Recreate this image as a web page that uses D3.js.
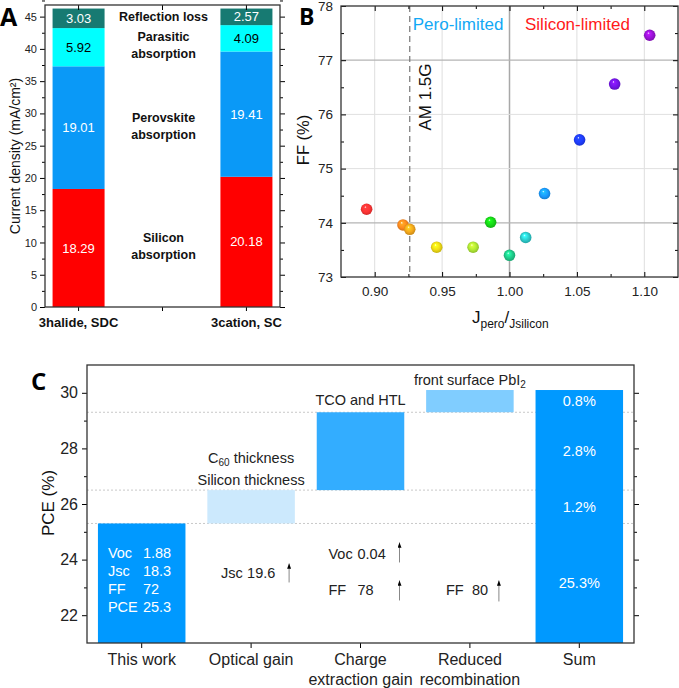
<!DOCTYPE html>
<html><head><meta charset="utf-8">
<script src="https://cdn.jsdelivr.net/npm/d3@7"></script>
<style>
body{margin:0;background:#fff;}
svg{display:block;font-family:"Liberation Sans",Arial,sans-serif;}
</style></head><body>
<svg id="chart" width="679" height="688"></svg>
<script>
// ---------- Panel A data ----------
const devicesA = ["3halide, SDC", "3cation, SC"];
const siliconAbs = [18.29, 20.18];
const perovskiteAbs = [19.01, 19.41];
const parasiticAbs = [5.92, 4.09];
const reflectionLoss = [3.03, 2.57];
const segmentNamesA = [["Silicon", "absorption"], ["Perovskite", "absorption"], ["Parasitic", "absorption"], ["Reflection loss"]];
const segmentColorsA = ["#ff0000", "#0a99f7", "#00ffff", "#177a72"];
const segmentTextA = ["#fff", "#fff", "#000", "#fff"];
const yTicksA = [0, 5, 10, 15, 20, 25, 30, 35, 40, 45];

// ---------- Panel B data ----------
const jRatio = [0.894, 0.921, 0.926, 0.946, 0.973, 0.986, 1.000, 1.012, 1.026, 1.052, 1.078, 1.104];
const ffValues = [74.25, 73.96, 73.88, 73.55, 73.55, 74.01, 73.40, 73.73, 74.54, 75.53, 76.56, 77.46];
const pointColors = ["#ff3434", "#ff8a1e", "#f5a81c", "#f0dc14", "#b0ea34", "#16d816", "#1fcb8a", "#2ccccc", "#1a9bff", "#1f3dff", "#7414ea", "#9a12d6"];
const xTicksB = [0.90, 0.95, 1.00, 1.05, 1.10];
const yTicksB = [73, 74, 75, 76, 77, 78];
const am15G = 0.926;

// ---------- Panel C data ----------
const stepsC = ["This work", "Optical gain", "Charge extraction gain", "Reduced recombination", "Sum"];
const stepLabelLinesC = [["This work"], ["Optical gain"], ["Charge", "extraction gain"], ["Reduced", "recombination"], ["Sum"]];
const baselinePCE = 25.3;
const pceGains = [1.2, 2.8, 0.8];
const sumLabels = ["25.3%", "1.2%", "2.8%", "0.8%"];
const thisWorkParams = ["Voc", "Jsc", "FF", "PCE"];
const thisWorkValues = ["1.88", "18.3", "72", "25.3"];
const yTicksC = [22, 24, 26, 28, 30];
const barColorsC = ["#0099ff", "#cce9fd", "#33adff", "#80cdff", "#0099ff"];

const svg = d3.select("#chart");
const frameColor = "#333";

// =============== PANEL A ===============
(function () {
  const L = 45, R = 280, T = 5, B = 307;
  const y = d3.scaleLinear([0, 46.8], [B, T]);
  const x = d3.scalePoint(devicesA, [L, R]).padding(0.2);
  const bw = 52;
  const g = svg.append("g");
  const table = devicesA.map((d, i) => ({ dev: d, s0: siliconAbs[i], s1: perovskiteAbs[i], s2: parasiticAbs[i], s3: reflectionLoss[i] }));
  const stack = d3.stack().keys(["s0", "s1", "s2", "s3"])(table);
  stack.forEach((layer, k) => {
    layer.forEach(seg => {
      g.append("rect").attr("x", x(seg.data.dev) - bw / 2).attr("width", bw)
        .attr("y", y(seg[1])).attr("height", y(seg[0]) - y(seg[1])).attr("fill", segmentColorsA[k]);
      g.append("text").attr("x", x(seg.data.dev)).attr("y", y((seg[0] + seg[1]) / 2))
        .attr("dy", "0.35em").attr("text-anchor", "middle").attr("font-size", 13)
        .attr("fill", segmentTextA[k]).text(seg.data[layer.key].toFixed(2));
    });
    // side labels
    const first = layer[0];
    const cy = y((first[0] + first[1]) / 2) - 2;
    const lines = segmentNamesA[k];
    const t = g.append("text").attr("text-anchor", "middle").attr("font-size", 12.5).attr("font-weight", "bold").attr("fill", "#111");
    lines.forEach((ln, j) => {
      t.append("tspan").attr("x", (L + R) / 2 + 1).attr("y", cy + (j - (lines.length - 1) / 2) * 17).attr("dy", "0.35em").text(ln);
    });
  });
  // axes
  const ax = g.append("g").attr("transform", `translate(${L},0)`)
    .call(d3.axisLeft(y).tickValues(yTicksA).tickSize(5).tickPadding(3).tickFormat(d3.format("d")));
  ax.select(".domain").remove();
  ax.selectAll("text").attr("font-size", 11).attr("fill", "#222").attr("font-family", "Liberation Sans, Arial, sans-serif");
  const minorA = yTicksA.map(v => v + 2.5);
  g.append("g").attr("transform", `translate(${L},0)`).call(d3.axisLeft(y).tickValues(minorA).tickSize(3).tickFormat("")).select(".domain").remove();
  g.append("g").attr("transform", `translate(${R},0)`).call(d3.axisRight(y).tickValues(yTicksA).tickSize(5).tickFormat("")).select(".domain").remove();
  g.append("g").attr("transform", `translate(${R},0)`).call(d3.axisRight(y).tickValues(minorA).tickSize(3).tickFormat("")).select(".domain").remove();
  const xt = devicesA.map(d => x(d)).concat([(x(devicesA[0]) + x(devicesA[1])) / 2]);
  xt.forEach(v => {
    g.append("line").attr("x1", v).attr("x2", v).attr("y1", T).attr("y2", T + 5).attr("stroke", "#000");
    g.append("line").attr("x1", v).attr("x2", v).attr("y1", B).attr("y2", B + 4).attr("stroke", "#000");
  });
  g.append("rect").attr("x", L).attr("y", T).attr("width", R - L).attr("height", B - T)
    .attr("fill", "none").attr("stroke", frameColor).attr("stroke-width", 1.3);
  devicesA.forEach(d => {
    g.append("text").attr("x", x(d)).attr("y", 327).attr("text-anchor", "middle")
      .attr("font-size", 13).attr("font-weight", "bold").attr("fill", "#111").text(d);
  });
  g.append("text").attr("transform", `translate(15,${156}) rotate(-90)`).attr("text-anchor", "middle")
    .attr("dy", "0.35em").attr("font-size", 14).attr("fill", "#111").text("Current density (mA/cm²)");
  g.append("text").attr("x", 0).attr("y", 26).attr("font-size", 25).attr("font-weight", "bold")
    .attr("font-family", "Open Sans, Liberation Sans, sans-serif").text("A");
})();

// =============== PANEL B ===============
(function () {
  const L = 341, R = 678, T = 6, B = 277;
  const x = d3.scaleLinear([0.875, 1.125], [L, R]);
  const y = d3.scaleLinear([73, 78], [B, T]);
  const g = svg.append("g");
  // grid
  xTicksB.forEach(v => {
    g.append("line").attr("x1", x(v)).attr("x2", x(v)).attr("y1", T).attr("y2", B)
      .attr("stroke", Math.abs(v - 1) < 1e-9 ? "#a8a8a8" : "#dedede").attr("stroke-width", Math.abs(v - 1) < 1e-9 ? 1.5 : 1);
  });
  yTicksB.slice(1, -1).forEach(v => {
    const dark = (v === 77 || v === 74);
    g.append("line").attr("x1", L).attr("x2", R).attr("y1", y(v)).attr("y2", y(v))
      .attr("stroke", dark ? "#b4b4b4" : "#e0e0e0").attr("stroke-width", dark ? 1.3 : 1);
  });
  // AM 1.5G dashed line
  g.append("line").attr("x1", x(am15G)).attr("x2", x(am15G)).attr("y1", T).attr("y2", B)
    .attr("stroke", "#777").attr("stroke-width", 1.2).attr("stroke-dasharray", "6,4");
  g.append("text").attr("transform", `translate(${x(am15G) + 15},${97}) rotate(-90)`)
    .attr("text-anchor", "middle").attr("dy", "0.35em").attr("font-size", 17).attr("fill", "#111").text("AM 1.5G");
  g.append("text").attr("x", x(am15G) + 3).attr("y", 30).attr("font-size", 17).attr("fill", "#12a8f5").text("Pero-limited");
  g.append("text").attr("x", 525).attr("y", 30).attr("font-size", 17).attr("fill", "#ff1a1a").text("Silicon-limited");
  // axes
  const bx = g.append("g").attr("transform", `translate(0,${B})`)
    .call(d3.axisBottom(x).tickValues(xTicksB).tickSize(-5).tickPadding(9).tickFormat(d3.format(".2f")));
  bx.select(".domain").remove();
  bx.selectAll("text").attr("font-size", 13.5).attr("fill", "#222").attr("font-family", "Liberation Sans, Arial, sans-serif");
  const minorX = xTicksB.map(v => v - 0.025).concat([1.125]).filter(v => v > 0.876 && v < 1.124);
  g.append("g").attr("transform", `translate(0,${B})`).call(d3.axisBottom(x).tickValues(minorX).tickSize(-3).tickFormat("")).select(".domain").remove();
  g.append("g").attr("transform", `translate(0,${T})`).call(d3.axisTop(x).tickValues(xTicksB).tickSize(-5).tickFormat("")).select(".domain").remove();
  g.append("g").attr("transform", `translate(0,${T})`).call(d3.axisTop(x).tickValues(minorX).tickSize(-3).tickFormat("")).select(".domain").remove();
  const ly = g.append("g").attr("transform", `translate(${L},0)`)
    .call(d3.axisLeft(y).tickValues(yTicksB).tickSize(-5).tickPadding(8).tickFormat(d3.format("d")));
  ly.select(".domain").remove();
  ly.selectAll("text").attr("font-size", 13.5).attr("fill", "#222").attr("font-family", "Liberation Sans, Arial, sans-serif");
  const minorY = yTicksB.slice(0, -1).map(v => v + 0.5);
  g.append("g").attr("transform", `translate(${L},0)`).call(d3.axisLeft(y).tickValues(minorY).tickSize(-3).tickFormat("")).select(".domain").remove();
  g.append("g").attr("transform", `translate(${R},0)`).call(d3.axisRight(y).tickValues(yTicksB).tickSize(-5).tickFormat("")).select(".domain").remove();
  g.append("g").attr("transform", `translate(${R},0)`).call(d3.axisRight(y).tickValues(minorY).tickSize(-3).tickFormat("")).select(".domain").remove();
  g.append("rect").attr("x", L).attr("y", T).attr("width", R - L).attr("height", B - T)
    .attr("fill", "none").attr("stroke", frameColor).attr("stroke-width", 1.3);
  // spheres
  const defs = svg.append("defs");
  pointColors.forEach((c, i) => {
    const gr = defs.append("radialGradient").attr("id", "sph" + i).attr("cx", "50%").attr("cy", "50%").attr("r", "55%").attr("fx", "38%").attr("fy", "30%");
    gr.append("stop").attr("offset", "0%").attr("stop-color", "#ffffff");
    gr.append("stop").attr("offset", "18%").attr("stop-color", d3.color(c).brighter(0.6));
    gr.append("stop").attr("offset", "60%").attr("stop-color", c);
    gr.append("stop").attr("offset", "100%").attr("stop-color", d3.color(c).darker(0.7));
  });
  jRatio.forEach((v, i) => {
    g.append("circle").attr("cx", x(v)).attr("cy", y(ffValues[i])).attr("r", 5.8).attr("fill", `url(#sph${i})`);
  });
  // labels
  const xl = g.append("text").attr("x", 472).attr("y", 323).attr("font-size", 17).attr("fill", "#111");
  xl.append("tspan").text("J");
  xl.append("tspan").attr("font-size", 12).attr("dy", 5).text("pero");
  xl.append("tspan").attr("dy", -5).text("/");
  xl.append("tspan").attr("font-size", 12).attr("dy", 5).text("Jsilicon");
  g.append("text").attr("transform", `translate(303,${140}) rotate(-90)`).attr("text-anchor", "middle")
    .attr("dy", "0.35em").attr("font-size", 16.5).attr("fill", "#111").text("FF (%)");
  g.append("text").attr("x", 299).attr("y", 25).attr("font-size", 23).attr("font-weight", "bold")
    .attr("font-family", "Open Sans, Liberation Sans, sans-serif").text("B");
})();

// =============== PANEL C ===============
(function () {
  const L = 87, R = 634, T = 365, B = 643;
  const y = d3.scaleLinear([21, 31], [B, T]);
  const x = d3.scaleBand(stepsC, [L, R]).paddingInner(0.2).paddingOuter(0.1);
  const bw = x.bandwidth();
  const g = svg.append("g");
  const y0 = y.domain()[0];
  const cum = [baselinePCE];
  pceGains.forEach(v => cum.push(+(cum[cum.length - 1] + v).toFixed(2)));
  const lows = [y0].concat(cum.slice(0, -1)).concat([y0]);
  const highs = cum.concat([cum[cum.length - 1]]);
  // dotted guide lines
  cum.slice(0, -1).forEach(v => {
    g.append("line").attr("x1", L).attr("x2", R).attr("y1", y(v)).attr("y2", y(v))
      .attr("stroke", "#c8c8c8").attr("stroke-width", 1).attr("stroke-dasharray", "2,2");
  });
  stepsC.forEach((s, i) => {
    g.append("rect").attr("x", x(s)).attr("width", bw).attr("y", y(highs[i])).attr("height", y(lows[i]) - y(highs[i]))
      .attr("fill", barColorsC[i]);
  });
  // sum labels
  const sumStep = stepsC[stepsC.length - 1];
  const sumEdges = [y0].concat(cum);
  sumLabels.forEach((lab, i) => {
    g.append("text").attr("x", x(sumStep) + bw / 2).attr("y", y((sumEdges[i] + sumEdges[i + 1]) / 2)).attr("dy", "0.35em")
      .attr("text-anchor", "middle").attr("fill", "#fff").attr("font-size", 14.5).text(lab);
  });
  // this work labels
  const tw = x(stepsC[0]);
  thisWorkParams.forEach((p, i) => {
    const yy = y(baselinePCE) + 29 + i * 18.3;
    g.append("text").attr("x", tw + 10).attr("y", yy).attr("dy", "0.35em").attr("fill", "#fff").attr("font-size", 14.5).text(p);
    g.append("text").attr("x", tw + 45).attr("y", yy).attr("dy", "0.35em").attr("fill", "#fff").attr("font-size", 14.5).text(thisWorkValues[i]);
  });
  // notes above gain bars
  const c1 = x(stepsC[1]) + bw / 2, c2 = x(stepsC[2]) + bw / 2, c3 = x(stepsC[3]) + bw / 2;
  const n1 = g.append("text").attr("x", c1).attr("y", y(highs[1]) - 27).attr("text-anchor", "middle").attr("font-size", 14.5).attr("fill", "#222");
  n1.append("tspan").text("C");
  n1.append("tspan").attr("font-size", 10).attr("dy", 3).text("60");
  n1.append("tspan").attr("dy", -3).text(" thickness");
  g.append("text").attr("x", c1).attr("y", y(highs[1]) - 5).attr("text-anchor", "middle").attr("font-size", 14.5).attr("fill", "#222").text("Silicon thickness");
  g.append("text").attr("x", c2).attr("y", y(highs[2]) - 7).attr("text-anchor", "middle").attr("font-size", 14.5).attr("fill", "#222").text("TCO and HTL");
  const n3 = g.append("text").attr("x", c3).attr("y", y(highs[3]) - 5).attr("text-anchor", "middle").attr("font-size", 14.5).attr("fill", "#222");
  n3.append("tspan").text("front surface PbI");
  n3.append("tspan").attr("font-size", 10).attr("dy", 3).text("2");
  // parameter gain annotations
  const defs = svg.append("defs");
  defs.append("marker").attr("id", "arr").attr("viewBox", "0 0 6 8").attr("refX", 3).attr("refY", 0)
    .attr("markerWidth", 4).attr("markerHeight", 6).attr("orient", "0").attr("markerUnits", "userSpaceOnUse")
    .append("path").attr("d", "M0,8 L3,0 L6,8 Z").attr("fill", "#000");
  function arrow(ax, ya, yb) {
    g.append("line").attr("x1", ax).attr("x2", ax).attr("y1", ya).attr("y2", yb + 1)
      .attr("stroke", "#888").attr("stroke-width", 1).attr("marker-end", "url(#arr)");
  }
  function note(tx, ty, a, b, bx) {
    g.append("text").attr("x", tx).attr("y", ty).attr("dy", "0.35em").attr("font-size", 14.5).attr("fill", "#222").text(a);
    g.append("text").attr("x", bx).attr("y", ty).attr("dy", "0.35em").attr("font-size", 14.5).attr("fill", "#222").text(b);
  }
  const rowTop = y(baselinePCE) + 30, rowMid = y(baselinePCE) + 49, rowBot = y(baselinePCE) + 66;
  note(c1 - 30, rowMid, "Jsc", "19.6", c1 - 4);
  arrow(c1 + 38, rowMid + 10, rowMid - 10);
  note(c2 - 32, rowTop, "Voc", "0.04", c2 - 3);
  arrow(c2 + 39, rowTop + 9, rowTop - 12);
  note(c2 - 32, rowBot, "FF", "78", c2 - 3);
  arrow(c2 + 39, rowBot + 11, rowBot - 10);
  note(c3 - 24, rowBot, "FF", "80", c3 + 2);
  arrow(c3 + 29, rowBot + 12, rowBot - 10);
  // axes
  const ay = g.append("g").attr("transform", `translate(${L},0)`)
    .call(d3.axisLeft(y).tickValues(yTicksC).tickSize(5).tickPadding(4).tickFormat(d3.format("d")));
  ay.select(".domain").remove();
  ay.selectAll("text").attr("font-size", 16).attr("fill", "#222").attr("font-family", "Liberation Sans, Arial, sans-serif");
  const minorC = yTicksC.map(v => v - 1).concat([29]).filter((v, i, a) => a.indexOf(v) === i && v > 21);
  g.append("g").attr("transform", `translate(${L},0)`).call(d3.axisLeft(y).tickValues(minorC).tickSize(3).tickFormat("")).select(".domain").remove();
  g.append("g").attr("transform", `translate(${R},0)`).call(d3.axisRight(y).tickValues(yTicksC).tickSize(5).tickFormat("")).select(".domain").remove();
  g.append("g").attr("transform", `translate(${R},0)`).call(d3.axisRight(y).tickValues(minorC).tickSize(3).tickFormat("")).select(".domain").remove();
  const axb = g.append("g").attr("transform", `translate(0,${B})`).call(d3.axisBottom(x).tickSize(5).tickFormat(""));
  axb.select(".domain").remove();
  stepsC.forEach((s, i) => {
    const t = g.append("text").attr("text-anchor", "middle").attr("font-size", 16).attr("fill", "#222");
    stepLabelLinesC[i].forEach((ln, j) => {
      t.append("tspan").attr("x", x(s) + bw / 2).attr("y", 665 + j * 20).text(ln);
    });
  });
  g.append("rect").attr("x", L).attr("y", T).attr("width", R - L).attr("height", B - T)
    .attr("fill", "none").attr("stroke", frameColor).attr("stroke-width", 1.3);
  g.append("text").attr("transform", `translate(48,${503}) rotate(-90)`).attr("text-anchor", "middle")
    .attr("dy", "0.35em").attr("font-size", 17).attr("fill", "#111").text("PCE (%)");
  g.append("text").attr("x", 31).attr("y", 390).attr("font-size", 24).attr("font-weight", "bold")
    .attr("font-family", "Open Sans, Liberation Sans, sans-serif").text("C");
})();
</script>
</body></html>
